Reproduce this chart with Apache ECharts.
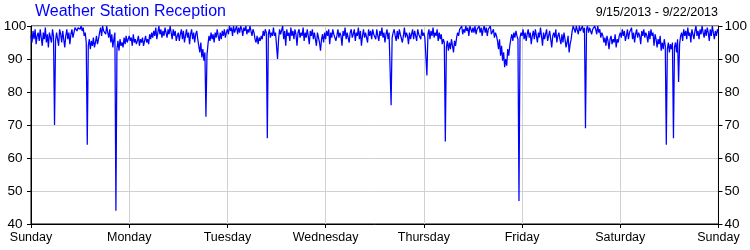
<!DOCTYPE html>
<html>
<head>
<meta charset="utf-8">
<script src="https://cdn.jsdelivr.net/npm/echarts@6/dist/echarts.min.js"></script>
<style>
html,body{margin:0;padding:0;background:#fff;}
#chart{width:750px;height:250px;}
</style>
</head>
<body>
<div id="chart"></div>
<script>
var titleText = "Weather Station Reception";
var dateRangeText = "9/15/2013 - 9/22/2013";
var dayLabels = ["Sunday","Monday","Tuesday","Wednesday","Thursday","Friday","Saturday","Sunday"];
var startHour = 0;
var stepHours = 0.25;
var yMin = 40, yMax = 100, yStep = 10;
// Reception (%) sampled every quarter hour, Sunday 00:00 through next Sunday 00:00
var reception = [
 97,95,98.5,96,99,94.5,97,98,95.5,99,96.5,94,
 98,96,99.5,95,97.5,93.5,98,96.5,95,99,97,70,
 95.5,98,96,94,99,97.5,95,98.5,96,93.5,97,99,
 96,98,94.5,97.5,99,96.5,98,99.5,100,98.5,99.5,100,
 99,100,98.5,99.5,97,98,95,64,94,96,93,95.5,
 94,96.5,93.5,95,97,94.5,96,98,99.5,97,100,98.5,
 99,97.5,100,98,96.5,99,95,97.5,93.5,96,98,44,
 93,95.5,92.5,96,94,95,93.5,96.5,94.5,97,95,96,
 97,95.5,96.5,94,97.5,95,96,94.5,95.5,97,94,96,
 95,96.5,94,95.5,97,95,96,94.5,97.5,96,98,96.5,
 98.5,97,99.5,96,98,100,97.5,99,96.5,98.5,97,99.5,
 98,96.5,99,97.5,100,98,96,99,97,98.5,95.5,97,
 98,95.5,97.5,99,96,98.5,95,97,99,96.5,98,94.5,
 97.5,99,96,98,95,97.5,98.5,96,94,92,95,90.5,
 93,89.5,92,72.5,91,94.5,97,95.5,98,96,97.5,95,
 98,96.5,99,97,95.5,98,96,98.5,97,99,96.5,98,
 99,97.5,100,98.5,99.5,97,100,98,99,100,97.5,99.5,
 98,100,99,97,99.5,98.5,100,97.5,99,98,100,98.5,
 97,99,98,96,95,97,94.5,96.5,95.5,97,96,98.5,
 97,99,98,66,97.5,99,96.5,98,97,99.5,97,98,
 98.5,90,96,99,97.5,98,100,96,98.5,94,99,97,
 98,95.5,99.5,97,98.5,96,99,97.5,94,98,99,96.5,
 98,97,99.5,95.5,98,96.5,99,97,94.5,98.5,97,99,
 96,98,97.5,94,98,96.5,95,92.5,96,97.5,95,98,
 96,98.5,97,99,94.5,98,96.5,99,97.5,98,95.5,97,
 99,96.5,98,97,94,98.5,97,99.5,96,98,97.5,95,
 98,99,96.5,97.5,99,95.5,98,97,99.5,96,98.5,94,
 97,99,96.5,98,97.5,95,99,97,98.5,96,99,97.5,
 98,96,99,97,95.5,98.5,97,99.5,96.5,98,95,97.5,
 99,96,98,97.5,76,96.5,98,99,97,95.5,98.5,96,
 99,97.5,98,95,97,99.5,96.5,98,97,94.5,98,96,
 97.5,99,96,98.5,97,95.5,99,97.5,98,96,99,97,
 98,96.5,97,85,97.5,99,96,98.5,97,99.5,96.5,98,
 97,99,95.5,98,96,97.5,94.5,96,95,65,93.5,95.5,
 92.5,95,93,96,94,92,95.5,94,96.5,98,97,99,
 98.5,100,97.5,99,98,100,98.5,99.5,97,100,99,98,
 99.5,98,100,97.5,99,98.5,100,98,99.5,97,99,100,
 98,99.5,97,99,98.5,100,97.5,98,99,96.5,98,97,
 95.5,93,96,91,94,89.5,92,87.5,90,88,93,91,
 94,96,97.5,95.5,98,96.5,98.5,97,96,47,96.5,98,
 97,99,96,98,95.5,97.5,99,96.5,98,94.5,97,98.5,
 96,99,97,95,98,96.5,99.5,97,94,98,96,97.5,
 99,95.5,97,98.5,96,93.5,97,98,96.5,99,95,97,
 98,96,94.5,97.5,95,98,96,93.5,95,97,92,94.5,
 96,98.5,100,99,98,100,99.5,97.5,100,98.5,99,100,
 98,99.5,69,99,100,98,99.5,100,97.5,99,98.5,100,
 99,97.5,100,98,99,96.5,98,97,95,96.5,94,97,
 95.5,93,96,97,94.5,96,95,97.5,93.5,96,95,97,
 98,96.5,99,97,98.5,95.5,97,99,96,98,97.5,99.5,
 96,98,95,97.5,99,96.5,98,97,94.5,98.5,97,99,
 96.5,98,97,95,98.5,96,99,97,98,94,97.5,96,
 93.5,96,94.5,97,92.5,95,93,96,94,64,93,95,
 92,94.5,93,95,66,93.5,95,92,96,83,94.5,97,
 98,95.5,99,97,98.5,96,99.5,97,98,95,99,97.5,
 96,98.5,100,97,98.5,96,99,97.5,100,98,96.5,99,
 97,99.5,98,95.5,99,97,100,98,96,98.5,97,99,
 98
];

var seriesData = reception.map(function (v, i) { return [startHour + i * stepHours, v]; });

var labelFont = "Arial, 'Liberation Sans', sans-serif";
var chart = echarts.init(document.getElementById('chart'), null, {renderer: 'canvas'});
chart.setOption({
  animation: false,
  backgroundColor: '#ffffff',
  title: [
    { text: titleText, left: 35, top: 4, padding: 0,
      textStyle: { color: '#0000ff', fontSize: 16, fontWeight: 'normal', fontFamily: labelFont } },
    { text: dateRangeText, right: 32, top: 6, padding: 0,
      textStyle: { color: '#000000', fontSize: 12.5, fontWeight: 'normal', fontFamily: labelFont } }
  ],
  grid: { left: 31, right: 31, top: 26, bottom: 26, show: true, borderColor: '#000', borderWidth: 1, backgroundColor: 'transparent' },
  xAxis: {
    type: 'value', min: 0, max: 168, interval: 24,
    axisLine: { show: true, lineStyle: { color: '#000', width: 1 } },
    axisTick: { show: true, length: 4, lineStyle: { color: '#000' } },
    splitLine: { show: true, lineStyle: { color: '#d0d0d0', width: 1 } },
    axisLabel: {
      show: true, margin: 7, color: '#000', fontSize: 12.5, fontFamily: labelFont,
      showMinLabel: true, showMaxLabel: true,
      formatter: function (v) { return dayLabels[Math.round(v / 24)] || ''; }
    }
  },
  yAxis: [
    {
      type: 'value', min: yMin, max: yMax, interval: yStep, position: 'left',
      axisLine: { show: true, lineStyle: { color: '#000' } },
      axisTick: { show: true, length: 4, lineStyle: { color: '#000' } },
      splitLine: { show: true, lineStyle: { color: '#d0d0d0', width: 1 } },
      axisLabel: { margin: 16, align: 'center', color: '#000', fontSize: 13.5, fontFamily: labelFont,
        showMinLabel: true, showMaxLabel: true }
    },
    {
      type: 'value', min: yMin, max: yMax, interval: yStep, position: 'right',
      axisLine: { show: true, lineStyle: { color: '#000' } },
      axisTick: { show: true, length: 4, lineStyle: { color: '#000' } },
      splitLine: { show: false },
      axisLabel: { margin: 6, align: 'left', color: '#000', fontSize: 13.5, fontFamily: labelFont,
        showMinLabel: true, showMaxLabel: true }
    }
  ],
  series: [{
    type: 'line', data: seriesData, showSymbol: false, symbol: 'none', sampling: null,
    lineStyle: { color: '#0000ff', width: 1.25 }, z: 5, clip: true
  }]
});
</script>
</body>
</html>
